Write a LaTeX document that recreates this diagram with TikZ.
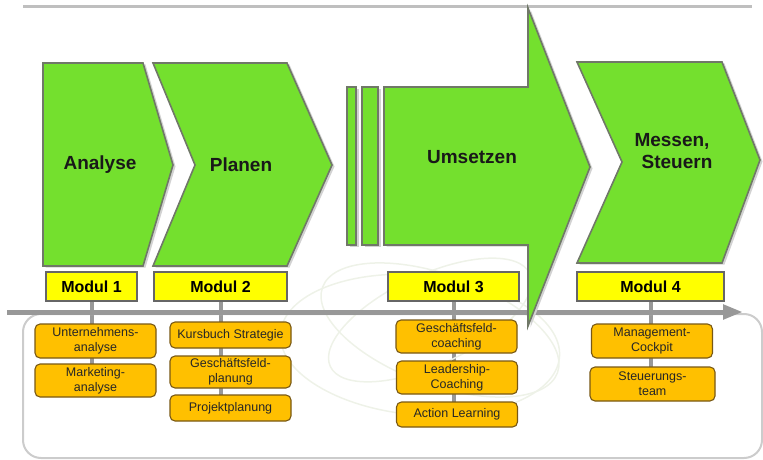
\documentclass[tikz,border=0pt]{standalone}
\usepackage{fontspec}
\setmainfont{Liberation Sans}
\usetikzlibrary{arrows.meta,backgrounds}

\definecolor{stepgreen}{RGB}{116,224,46}
\definecolor{stepborder}{RGB}{112,120,104}
\definecolor{modulyellow}{RGB}{255,255,0}
\definecolor{taskorange}{RGB}{255,192,0}
\definecolor{taskborder}{RGB}{120,88,20}
\definecolor{axisgray}{RGB}{152,152,152}
\definecolor{swirlgray}{RGB}{238,242,232}

\tikzset{
  phase/.style={fill=stepgreen, draw=stepborder, line width=1.6pt, line join=miter},
  phaseshadow/.style={fill=gray!35, draw=none, shift={(2.5,1.5)}},
  phasetext/.style={font=\fontsize{19}{22}\selectfont\bfseries, align=center, text=black!90},
  modul/.style={fill=modulyellow, draw=gray!80!black, line width=1.4pt, minimum height=29pt,
    inner sep=0pt, font=\fontsize{16}{18}\selectfont\bfseries},
  task/.style={fill=taskorange, draw=taskborder, line width=1.1pt, rounded corners=5pt,
    minimum width=121pt, inner sep=0pt, align=center, font=\fontsize{12.5}{15}\selectfont, text=black!85},
  link/.style={draw=axisgray, line width=4pt},
  swirl/.style={draw=swirlgray, line width=1.5pt}
}

\begin{document}
\begin{tikzpicture}[x=1pt, y=-1pt]
  \useasboundingbox (0,0) rectangle (763,460);

  % faint swirl in the back
  \draw[swirl, rotate around={-20:(440,330)}] (440,330) ellipse (125pt and 55pt);
  \draw[swirl, rotate around={25:(430,320)}] (430,320) ellipse (110pt and 45pt);
  \draw[swirl, rotate around={-5:(420,345)}] (420,345) ellipse (140pt and 70pt);

  % frame and time axis
  \draw[gray!50, line width=3pt] (23,7) -- (752,7);
  \draw[gray!40, line width=2pt, rounded corners=18pt] (23,314) rectangle (762,458);
  \coordinate (axstart) at (7,312);
  \coordinate (axend) at (743,312);
  \draw[axisgray, line width=5pt, -{Triangle[length=20pt,width=14pt]}] (axstart) -- (axend);

  % phases
  \fill[phaseshadow] (43,63) -- (143,63) -- (173,165) -- (143,266) -- (43,266) -- cycle;
  \draw[phase] (43,63) -- (143,63) -- (173,165) -- (143,266) -- (43,266) -- cycle;
  \fill[phaseshadow] (153,63) -- (287,63) -- (332,165) -- (287,266) -- (153,266) -- (195,165) -- cycle;
  \draw[phase] (153,63) -- (287,63) -- (332,165) -- (287,266) -- (153,266) -- (195,165) -- cycle;
  \fill[phaseshadow] (347,87) rectangle (356,245);
  \draw[phase] (347,87) rectangle (356,245);
  \fill[phaseshadow] (362,87) rectangle (378,245);
  \draw[phase] (362,87) rectangle (378,245);
  \fill[phaseshadow] (384,87) -- (528,87) -- (528,8) -- (590,167) -- (528,326) -- (528,245) -- (384,245) -- cycle;
  \draw[phase] (384,87) -- (528,87) -- (528,8) -- (590,167) -- (528,326) -- (528,245) -- (384,245) -- cycle;
  \fill[phaseshadow] (577,62) -- (722,62) -- (760,160) -- (722,263) -- (577,263) -- (622,162) -- cycle;
  \draw[phase] (577,62) -- (722,62) -- (760,160) -- (722,263) -- (577,263) -- (622,162) -- cycle;

  \node[phasetext] (analyse) at (100,165) {Analyse};
  \node[phasetext] (planen) at (241,165) {Planen};
  \node[phasetext] (umsetzen) at (472,157) {Umsetzen};
  \node[phasetext] (messen) at (672,151) {Messen,\\ \hspace*{10pt}Steuern};

  % modules
  \node[modul, minimum width=91pt] (m1) at (91.5,286.5) {Modul 1};
  \node[modul, minimum width=133pt] (m2) at (220.5,286.5) {Modul 2};
  \node[modul, minimum width=131pt] (m3) at (453.5,286.5) {Modul 3};
  \node[modul, minimum width=147pt] (m4) at (650.5,286.5) {Modul 4};

  % module contents
  \node[task, minimum height=34pt] (t11) at (95.5,341) {Unternehmens-\\analyse};
  \node[task, minimum height=33pt] (t12) at (95.5,380.5) {Marketing-\\analyse};
  \node[task, minimum height=26pt] (t21) at (230.5,335) {Kursbuch Strategie};
  \node[task, minimum height=32pt] (t22) at (230.5,372) {Geschäftsfeld-\\planung};
  \node[task, minimum height=26pt] (t23) at (230.5,408) {Projektplanung};
  \node[task, minimum height=33pt] (t31) at (456.5,336.5) {Geschäftsfeld-\\coaching};
  \node[task, minimum height=33pt] (t32) at (457,377.5) {Leadership-\\Coaching};
  \node[task, minimum height=25pt] (t33) at (457,414.5) {Action Learning};
  \node[task, minimum height=34pt] (t41) at (652,341) {Management-\\Cockpit};
  \node[task, minimum height=34pt, minimum width=125pt] (t42) at (652.5,384) {Steuerungs-\\team};

  \begin{pgfonlayer}{background}
    \draw[link] (m1.south) -- (m1.south |- t12.center);
    \draw[link] (m2.south) -- (m2.south |- t23.center);
    \draw[link] (m3.south) -- (m3.south |- t33.center);
    \draw[link] (m4.south) -- (m4.south |- t42.center);
  \end{pgfonlayer}
\end{tikzpicture}
\end{document}
